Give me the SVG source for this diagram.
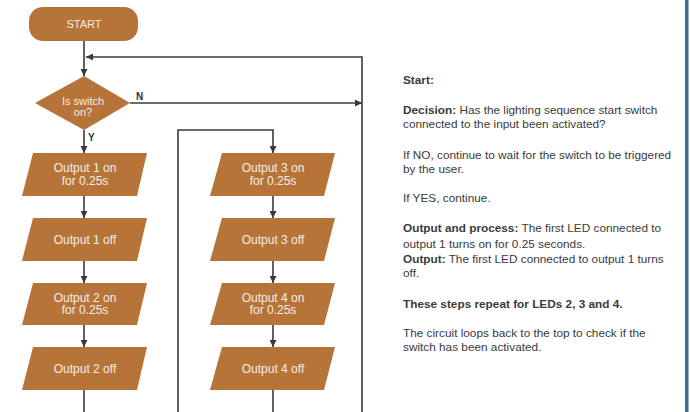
<svg xmlns="http://www.w3.org/2000/svg" width="690" height="412" viewBox="0 0 690 412">
<defs>
<marker id="ah" viewBox="0 0 10 10" refX="10" refY="5" markerWidth="7" markerHeight="7" markerUnits="userSpaceOnUse" orient="auto">
<path d="M0,0 L10,5 L0,10 z" fill="#3a3a3a"/>
</marker>
<style>
.shape{fill:#b77439;}
.lbl{font-family:"Liberation Sans",Arial,sans-serif;font-size:12px;fill:#f6ede2;text-anchor:middle;}
.conn{stroke:#3a3a3a;stroke-width:1.6;fill:none;}
.arr{marker-end:url(#ah);}
.yn{font-family:"Liberation Sans",Arial,sans-serif;font-size:10px;font-weight:bold;fill:#333;}
.desc{font-family:"Liberation Sans",Arial,sans-serif;font-size:11.8px;fill:#3a3a3a;}
.b{font-weight:bold;}
</style>
</defs>
<rect width="690" height="412" fill="#ffffff"/>
<rect x="685" y="0" width="3.5" height="412" fill="#3d6d9c"/>

<g id="connectors">
<path class="conn arr" d="M84,41 V76"/>
<path class="conn arr" d="M362,412 V57 H86"/>
<path class="conn arr" d="M130,103 H362"/>
<path class="conn arr" d="M84,130 V153"/>
<path class="conn arr" d="M84,196 V218"/>
<path class="conn arr" d="M84,261 V283"/>
<path class="conn arr" d="M84,325 V347"/>
<path class="conn" d="M84,390 V412"/>
<path class="conn arr" d="M178,412 V130 H273 V153"/>
<path class="conn arr" d="M273,196 V218"/>
<path class="conn arr" d="M273,261 V283"/>
<path class="conn arr" d="M273,325 V347"/>
<path class="conn" d="M273,390 V412"/>
<text class="yn" x="136" y="100">N</text>
<text class="yn" x="88" y="140.5">Y</text>
</g>

<g id="start">
<rect class="shape" x="29" y="7" width="109" height="34" rx="14"/>
<text class="lbl" x="84" y="27.5" style="font-size:11px">START</text>
</g>

<g id="decision">
<polygon class="shape" points="84,76 130,103 84,130 35,103"/>
<text class="lbl" x="83" y="105" style="font-size:11px">Is switch</text>
<text class="lbl" x="83" y="116" style="font-size:11px">on?</text>
</g>

<g id="out1on">
<polygon class="shape" points="33,153 147,153 137,196 22,196"/>
<text class="lbl" x="85" y="172">Output 1 on</text>
<text class="lbl" x="85" y="184.5">for 0.25s</text>
</g>
<g id="out1off">
<polygon class="shape" points="33,218 147,218 137,261 22,261"/>
<text class="lbl" x="85" y="243.5">Output 1 off</text>
</g>
<g id="out2on">
<polygon class="shape" points="33,283 147,283 137,325 22,325"/>
<text class="lbl" x="85" y="301.5">Output 2 on</text>
<text class="lbl" x="85" y="314">for 0.25s</text>
</g>
<g id="out2off">
<polygon class="shape" points="33,347 147,347 137,390 22,390"/>
<text class="lbl" x="85" y="372.5">Output 2 off</text>
</g>

<g id="out3on">
<polygon class="shape" points="222,153 335,153 324,196 210,196"/>
<text class="lbl" x="273" y="172">Output 3 on</text>
<text class="lbl" x="273" y="184.5">for 0.25s</text>
</g>
<g id="out3off">
<polygon class="shape" points="222,218 335,218 324,261 210,261"/>
<text class="lbl" x="273" y="243.5">Output 3 off</text>
</g>
<g id="out4on">
<polygon class="shape" points="222,283 335,283 324,325 210,325"/>
<text class="lbl" x="273" y="301.5">Output 4 on</text>
<text class="lbl" x="273" y="314">for 0.25s</text>
</g>
<g id="out4off">
<polygon class="shape" points="222,347 335,347 324,390 210,390"/>
<text class="lbl" x="273" y="372.5">Output 4 off</text>
</g>

<g id="description">
<text class="desc b" x="403" y="84">Start:</text>
<text class="desc" x="403" y="114"><tspan class="b">Decision:</tspan> Has the lighting sequence start switch</text>
<text class="desc" x="403" y="128">connected to the input been activated?</text>
<text class="desc" x="403" y="159">If NO, continue to wait for the switch to be triggered</text>
<text class="desc" x="403" y="173">by the user.</text>
<text class="desc" x="403" y="202">If YES, continue.</text>
<text class="desc" x="403" y="232"><tspan class="b">Output and process:</tspan> The first LED connected to</text>
<text class="desc" x="403" y="247.5">output 1 turns on for 0.25 seconds.</text>
<text class="desc" x="403" y="262.5"><tspan class="b">Output:</tspan> The first LED connected to output 1 turns</text>
<text class="desc" x="403" y="277">off.</text>
<text class="desc b" x="403" y="308">These steps repeat for LEDs 2, 3 and 4.</text>
<text class="desc" x="403" y="337">The circuit loops back to the top to check if the</text>
<text class="desc" x="403" y="351">switch has been activated.</text>
</g>
</svg>
